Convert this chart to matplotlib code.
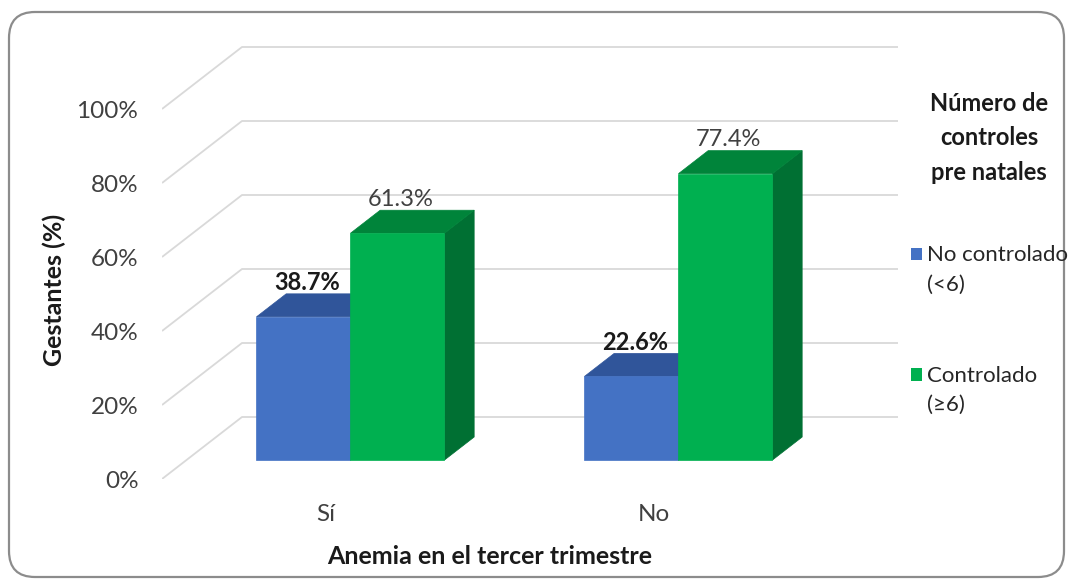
import matplotlib
matplotlib.use("Agg")
import matplotlib.pyplot as plt
from matplotlib.patches import Polygon, Patch, FancyBboxPatch, Rectangle
from matplotlib.legend_handler import HandlerPatch
import numpy as np

plt.rcParams['font.family'] = ['Lato', 'DejaVu Sans']

categories = ["Sí", "No"]
series_names = ["No controlado\n(<6)", "Controlado\n(≥6)"]
no_controlado = [38.7, 22.6]
controlado = [61.3, 77.4]
yticks = [0, 20, 40, 60, 80, 100]
ytick_labels = ["0%", "20%", "40%", "60%", "80%", "100%"]

front_colors = ["#4472C4", "#00B050"]
top_colors = ["#30559A", "#00843A"]
side_colors = ["#2A4A85", "#007033"]

W = 1072 / 100.0
H = 583 / 100.0
fig = plt.figure(figsize=(W, H), dpi=100)

# rounded border
bg = fig.add_axes([0, 0, 1, 1])
bg.set_xlim(0, 1072)
bg.set_ylim(583, 0)
bg.axis("off")
bg.add_patch(FancyBboxPatch((9, 12), 1055, 565, boxstyle="round,pad=0,rounding_size=26",
                            fc="white", ec="#8c8c8c", lw=1.6))

ax = fig.add_axes([162 / 1072, (583 - 479) / 583, 736 / 1072, 444 / 583])
ax.patch.set_alpha(0)
DX = 80 / 328.0     # full depth in x units
DY = 62 / 3.7       # full depth in % units
f0, f1 = 0.306, 0.677
bw = 0.2866

xmin, xmax = -0.5, len(categories) - 0.5
ax.set_xlim(xmin, xmax + DX)
ax.set_ylim(0, 120)

# perspective gridlines
for v in yticks:
    ax.plot([xmin, xmin + DX, xmax + DX], [v, v + DY, v + DY],
            color="#d9d9d9", lw=1.3, zorder=1, solid_capstyle="butt")

def bar3d(x0, v, i, bold):
    a0x, a0y = f0 * DX, f0 * DY
    a1x, a1y = f1 * DX, f1 * DY
    front = [(x0 + a0x, a0y), (x0 + bw + a0x, a0y), (x0 + bw + a0x, v + a0y), (x0 + a0x, v + a0y)]
    top = [(x0 + a0x, v + a0y), (x0 + bw + a0x, v + a0y), (x0 + bw + a1x, v + a1y), (x0 + a1x, v + a1y)]
    side = [(x0 + bw + a0x, a0y), (x0 + bw + a1x, a1y), (x0 + bw + a1x, v + a1y), (x0 + bw + a0x, v + a0y)]
    for poly, c in ((side, side_colors[i]), (top, top_colors[i]), (front, front_colors[i])):
        ax.add_patch(Polygon(poly, closed=True, fc=c, ec=c, lw=0.5, zorder=3 + i))
    ax.text(x0 + bw / 2 + a0x + 0.01, v + a1y + 3.0, f"{v:.1f}%", ha="center", va="center",
            fontsize=17, fontweight="bold" if bold else "normal",
            color="#1a1a1a" if bold else "#404040", zorder=10)

for j, cat in enumerate(categories):
    bar3d(j - bw, no_controlado[j], 0, True)
    bar3d(j, controlado[j], 1, False)

ax.set_yticks(yticks)
ax.set_yticklabels(ytick_labels, fontsize=17.5, color="#404040")
ax.set_xticks(range(len(categories)))
ax.set_xticklabels(categories, fontsize=17.5, color="#404040")
ax.tick_params(axis="y", length=0, pad=17)
ax.tick_params(axis="x", length=0, pad=18)
for s in ax.spines.values():
    s.set_visible(False)

ax.set_ylabel("Gestantes (%)", fontsize=18, fontweight="bold", color="#1a1a1a")
ax.yaxis.set_label_coords(-0.1305, 0.4257)
ax.set_xlabel("Anemia en el tercer trimestre", fontsize=18, fontweight="bold", color="#1a1a1a")
ax.xaxis.set_label_coords(0.4457, -0.148)


def top_square(legend, orig_handle, xdescent, ydescent, width, height, fontsize):
    return Rectangle((-xdescent, -ydescent + 11.5), width, height)


handles = [Patch(fc=front_colors[0], ec="none"), Patch(fc=front_colors[1], ec="none")]
leg = fig.legend(handles, series_names, loc="upper left", bbox_to_anchor=(911 / 1072, 1 - 92 / 583),
                 frameon=False, fontsize=16, title="Número de\ncontroles\npre natales",
                 title_fontproperties={"weight": "bold", "size": 17},
                 handlelength=0.5, handleheight=0.5, handletextpad=0.2,
                 labelspacing=3.2, borderpad=0, borderaxespad=0,
                 handler_map={Patch: HandlerPatch(patch_func=top_square)})
leg._legend_box.align = "center"
leg.get_title().set_linespacing(1.6)
leg.get_title().set_multialignment("center")
leg.get_title().set_color("#1a1a1a")
for t in leg.get_texts():
    t.set_linespacing(1.6)
    t.set_color("#262626")
leg._legend_box.sep = 44

fig.savefig("out.png", dpi=100)
